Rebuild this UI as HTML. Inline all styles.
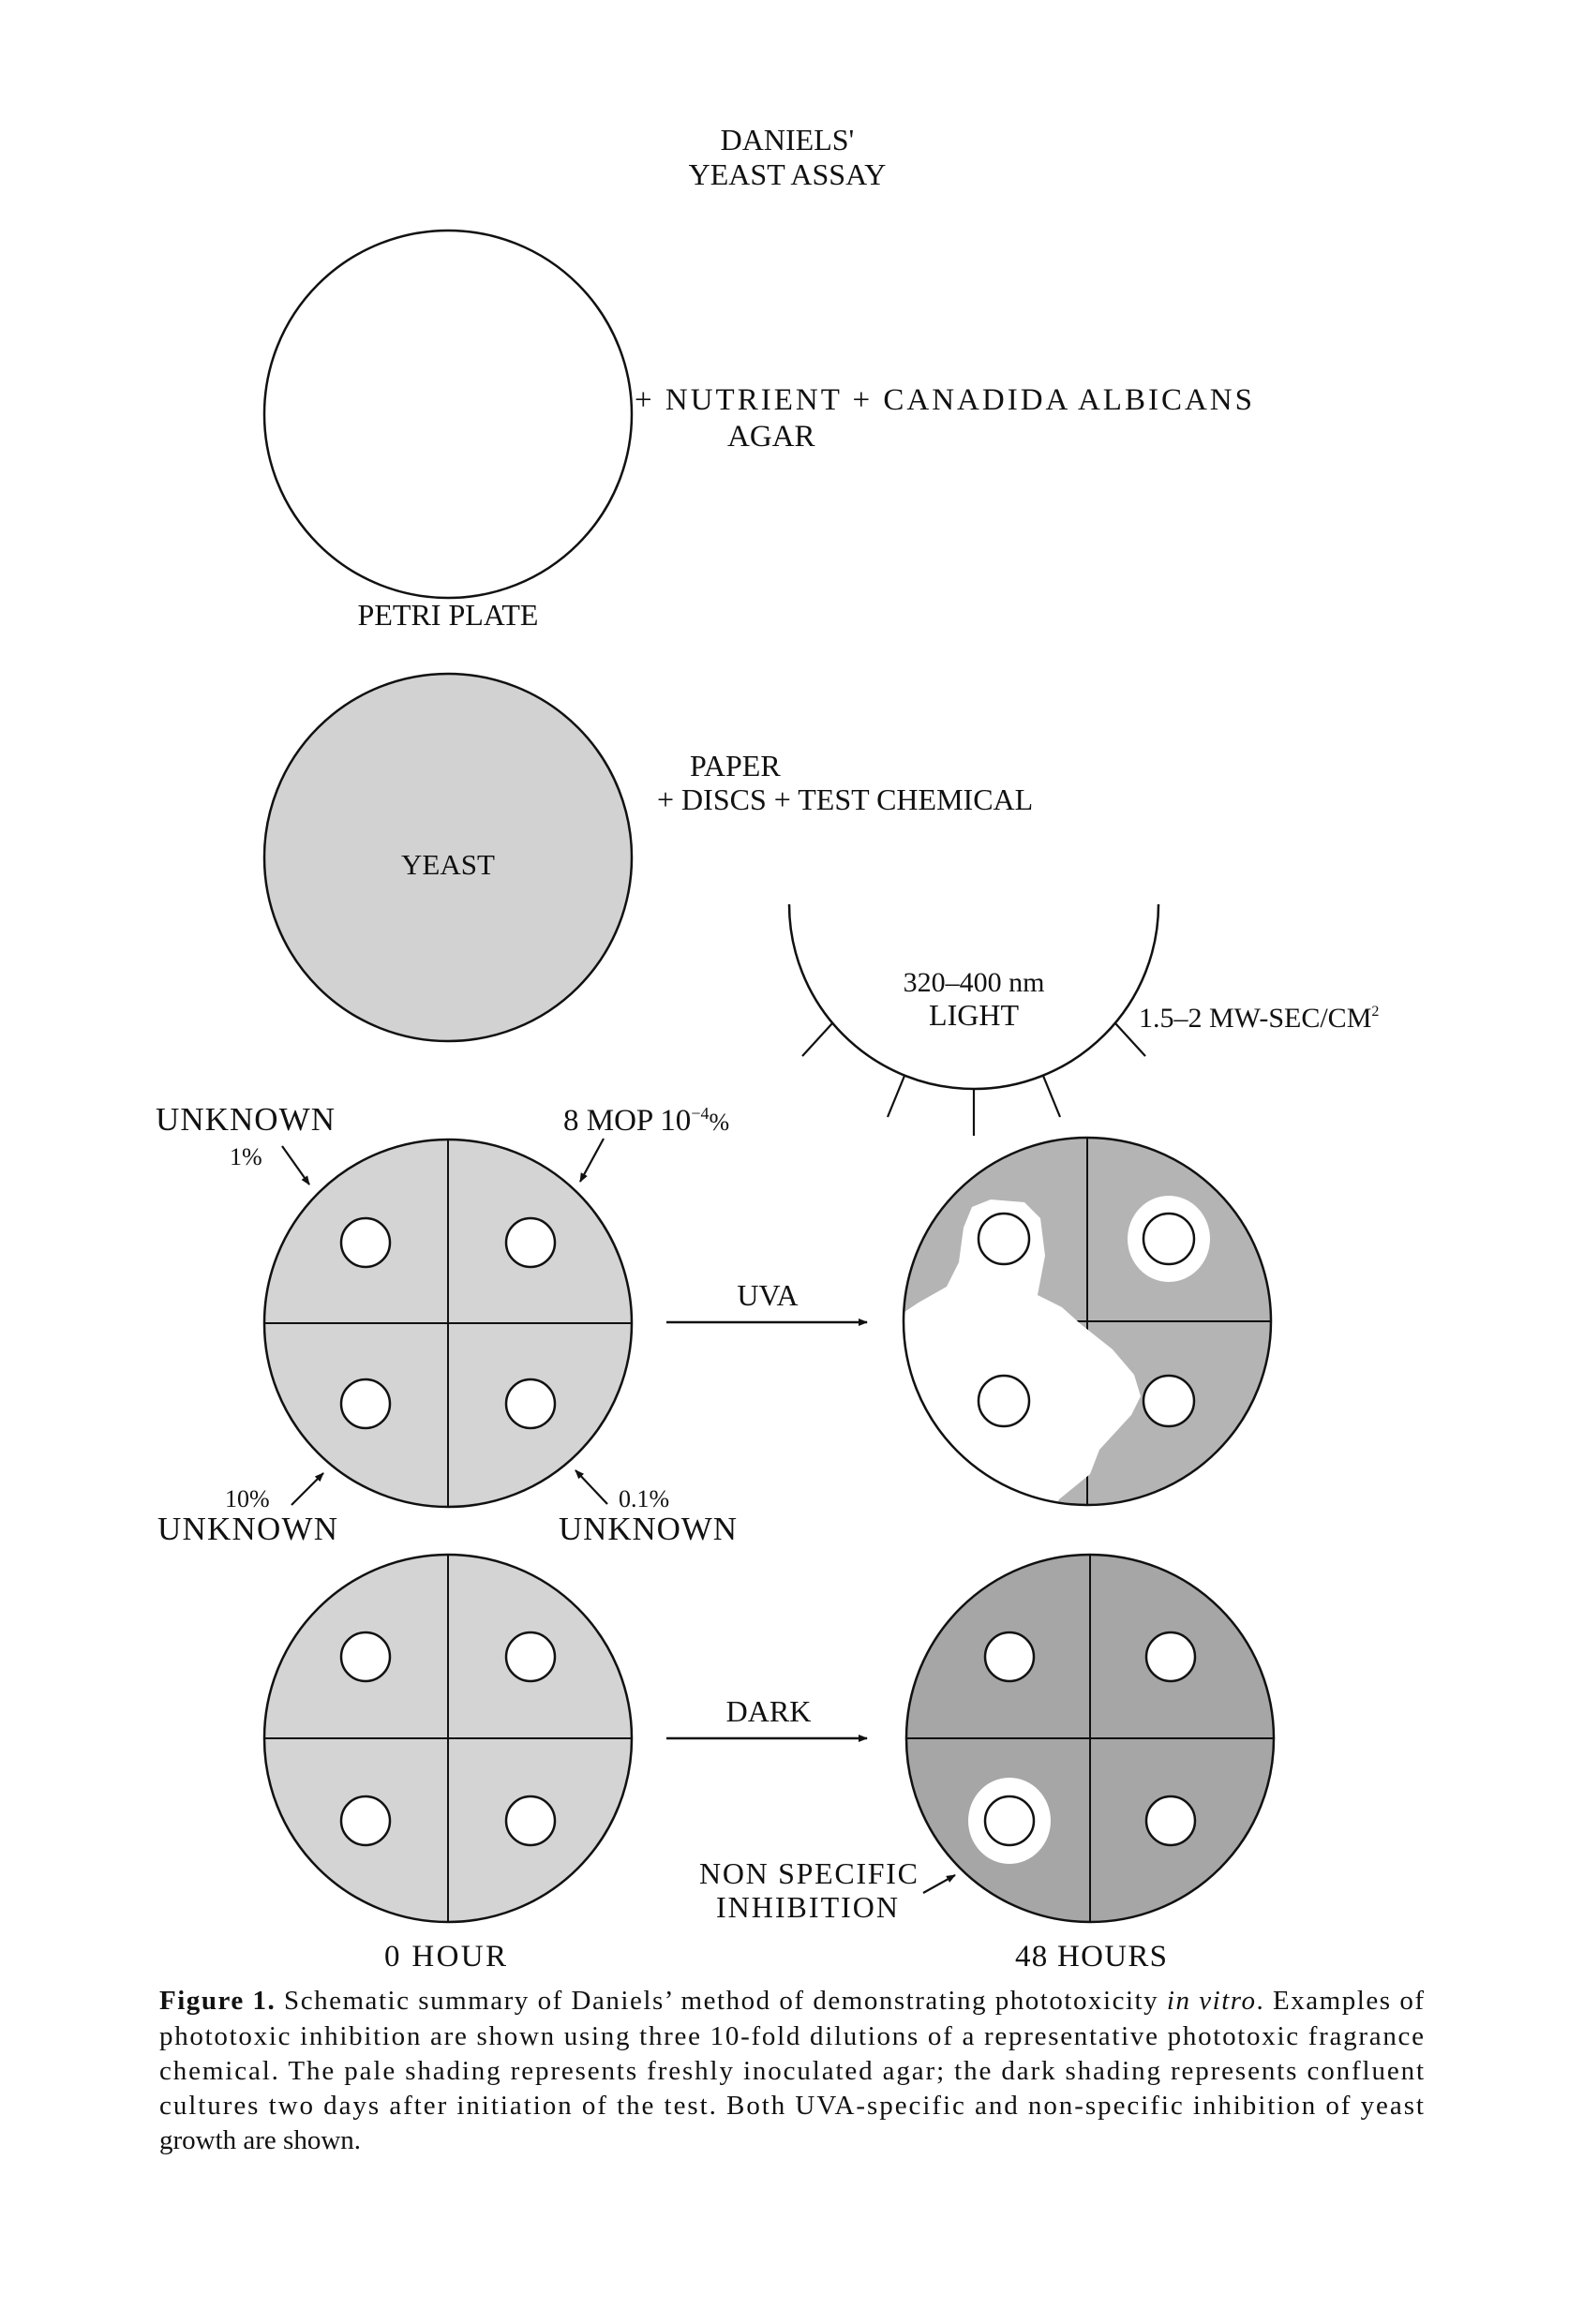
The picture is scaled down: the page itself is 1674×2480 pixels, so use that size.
<!DOCTYPE html>
<html><head><meta charset="utf-8"><style>
html,body{margin:0;padding:0;background:#fff}
svg{display:block}
text{font-family:"Liberation Serif",serif;fill:#111}
</style></head><body>
<svg width="1674" height="2480" viewBox="0 0 1674 2480" xmlns="http://www.w3.org/2000/svg">
<defs>
<marker id="ah" markerWidth="10" markerHeight="8" refX="9" refY="4" orient="auto" markerUnits="userSpaceOnUse"><path d="M0,0 L10,4 L0,8 Z" fill="#111"/></marker>
<clipPath id="c1"><circle cx="1160" cy="1410" r="196"/></clipPath>
<clipPath id="c2"><circle cx="1163" cy="1855" r="196"/></clipPath>
</defs>
<g font-size="32">
<text x="840" y="160" text-anchor="middle">DANIELS'</text>
<text x="840" y="197" text-anchor="middle">YEAST ASSAY</text>
</g>
<circle cx="478" cy="442" r="196" fill="#fff" stroke="#111" stroke-width="2.5"/>
<text x="677" y="437" font-size="33" textLength="659">+ NUTRIENT + CANADIDA ALBICANS</text>
<text x="776" y="476" font-size="33">AGAR</text>
<text x="478" y="667" font-size="32" text-anchor="middle">PETRI PLATE</text>

<circle cx="478" cy="915" r="196" fill="#d2d2d2" stroke="#111" stroke-width="2.5"/>
<text x="478" y="933" font-size="31" text-anchor="middle" fill="#333">YEAST</text>
<text x="736" y="828" font-size="32">PAPER</text>
<text x="701" y="864" font-size="32">+ DISCS + TEST CHEMICAL</text>

<path d="M842,965 A197,197 0 0 0 1236,965" fill="none" stroke="#111" stroke-width="2.5"/>
<g stroke="#111" stroke-width="2.2">
<line x1="1039" y1="1162" x2="1039" y2="1212"/>
<line x1="965" y1="1148" x2="947" y2="1192"/>
<line x1="1113" y1="1148" x2="1131" y2="1192"/>
<line x1="888" y1="1092" x2="856" y2="1127"/>
<line x1="1190" y1="1092" x2="1222" y2="1127"/>
</g>
<text x="1039" y="1058" font-size="30" text-anchor="middle">320–400 nm</text>
<text x="1039" y="1094" font-size="32" text-anchor="middle">LIGHT</text>
<text x="1215" y="1096" font-size="30">1.5–2 MW-SEC/CM<tspan font-size="16" dy="-12">2</tspan></text>

<!-- left middle plate -->
<circle cx="478" cy="1412" r="196" fill="#d4d4d4" stroke="#111" stroke-width="2.5"/>
<line x1="478" y1="1216" x2="478" y2="1608" stroke="#111" stroke-width="2"/>
<line x1="282" y1="1412" x2="674" y2="1412" stroke="#111" stroke-width="2"/>
<g fill="#fff" stroke="#111" stroke-width="2.5">
<circle cx="390" cy="1326" r="26"/><circle cx="566" cy="1326" r="26"/>
<circle cx="390" cy="1498" r="26"/><circle cx="566" cy="1498" r="26"/>
</g>
<g font-size="35">
<text x="166" y="1206" textLength="191">UNKNOWN</text>
<text x="245" y="1243" font-size="26">1%</text>
<text x="601" y="1206" font-size="33">8 MOP 10<tspan font-size="18" dy="-12">−4</tspan><tspan dy="12" font-size="26">%</tspan></text>
<text x="240" y="1608" font-size="26">10%</text>
<text x="168" y="1643" textLength="192">UNKNOWN</text>
<text x="660" y="1608" font-size="26">0.1%</text>
<text x="596" y="1643" textLength="190">UNKNOWN</text>
</g>
<g stroke="#111" stroke-width="2.2" marker-end="url(#ah)">
<line x1="301" y1="1223" x2="330" y2="1264"/>
<line x1="644" y1="1215" x2="619" y2="1261"/>
<line x1="311" y1="1606" x2="345" y2="1572"/>
<line x1="648" y1="1605" x2="614" y2="1569"/>
</g>

<text x="819" y="1393" font-size="32" text-anchor="middle">UVA</text>
<line x1="711" y1="1411" x2="925" y2="1411" stroke="#111" stroke-width="2.5" marker-end="url(#ah)"/>

<circle cx="1160" cy="1410" r="196" fill="#b4b4b4"/>
<line x1="1160" y1="1214" x2="1160" y2="1606" stroke="#111" stroke-width="2"/>
<line x1="964" y1="1410" x2="1356" y2="1410" stroke="#111" stroke-width="2"/>
<g clip-path="url(#c1)">
<path d="M955,1402 L965,1400 L980,1390 L1010,1373 L1023,1347 L1028,1310 L1037,1288 L1057,1280 L1093,1283 L1110,1300 L1115,1340 L1107,1382 L1133,1395 L1153,1413 L1187,1440 L1210,1467 L1217,1490 L1207,1510 L1173,1547 L1163,1573 L1130,1600 L1120,1620 L950,1620 Z" fill="#fff"/>
<ellipse cx="1247" cy="1322" rx="44" ry="46" fill="#fff"/>
</g>
<circle cx="1160" cy="1410" r="196" fill="none" stroke="#111" stroke-width="2.5"/>
<g fill="#fff" stroke="#111" stroke-width="2.5">
<circle cx="1071" cy="1322" r="27"/><circle cx="1247" cy="1322" r="27"/>
<circle cx="1071" cy="1495" r="27"/><circle cx="1247" cy="1495" r="27"/>
</g>

<circle cx="478" cy="1855" r="196" fill="#d4d4d4" stroke="#111" stroke-width="2.5"/>
<line x1="478" y1="1659" x2="478" y2="2051" stroke="#111" stroke-width="2"/>
<line x1="282" y1="1855" x2="674" y2="1855" stroke="#111" stroke-width="2"/>
<g fill="#fff" stroke="#111" stroke-width="2.5">
<circle cx="390" cy="1768" r="26"/><circle cx="566" cy="1768" r="26"/>
<circle cx="390" cy="1943" r="26"/><circle cx="566" cy="1943" r="26"/>
</g>

<text x="820" y="1837" font-size="32" text-anchor="middle">DARK</text>
<line x1="711" y1="1855" x2="925" y2="1855" stroke="#111" stroke-width="2.5" marker-end="url(#ah)"/>

<circle cx="1163" cy="1855" r="196" fill="#a6a6a6"/>
<ellipse cx="1077" cy="1943" rx="44" ry="46" fill="#fff" clip-path="url(#c2)"/>
<line x1="1163" y1="1659" x2="1163" y2="2051" stroke="#111" stroke-width="2"/>
<line x1="967" y1="1855" x2="1359" y2="1855" stroke="#111" stroke-width="2"/>
<circle cx="1163" cy="1855" r="196" fill="none" stroke="#111" stroke-width="2.5"/>
<g fill="#fff" stroke="#111" stroke-width="2.5">
<circle cx="1077" cy="1768" r="26"/><circle cx="1249" cy="1768" r="26"/>
<circle cx="1077" cy="1943" r="26"/><circle cx="1249" cy="1943" r="26"/>
</g>
<text x="746" y="2010" font-size="32" textLength="233">NON SPECIFIC</text>
<text x="764" y="2046" font-size="32" textLength="194">INHIBITION</text>
<line x1="985" y1="2020" x2="1019" y2="2001" stroke="#111" stroke-width="2.2" marker-end="url(#ah)"/>

<text x="410" y="2098" font-size="33" textLength="130">0 HOUR</text>
<text x="1083" y="2098" font-size="33" textLength="162">48 HOURS</text>

<g font-size="29">
<text x="170" y="2144" textLength="1349" lengthAdjust="spacing"><tspan font-weight="bold">Figure 1.</tspan> Schematic summary of Daniels’ method of demonstrating phototoxicity <tspan font-style="italic">in vitro</tspan>. Examples of</text>
<text x="170" y="2182" textLength="1349" lengthAdjust="spacing">phototoxic inhibition are shown using three 10-fold dilutions of a representative phototoxic fragrance</text>
<text x="170" y="2219" textLength="1349" lengthAdjust="spacing">chemical. The pale shading represents freshly inoculated agar; the dark shading represents confluent</text>
<text x="170" y="2256" textLength="1349" lengthAdjust="spacing">cultures two days after initiation of the test. Both UVA-specific and non-specific inhibition of yeast</text>
<text x="170" y="2293">growth are shown.</text>
</g>
</svg>
</body></html>
